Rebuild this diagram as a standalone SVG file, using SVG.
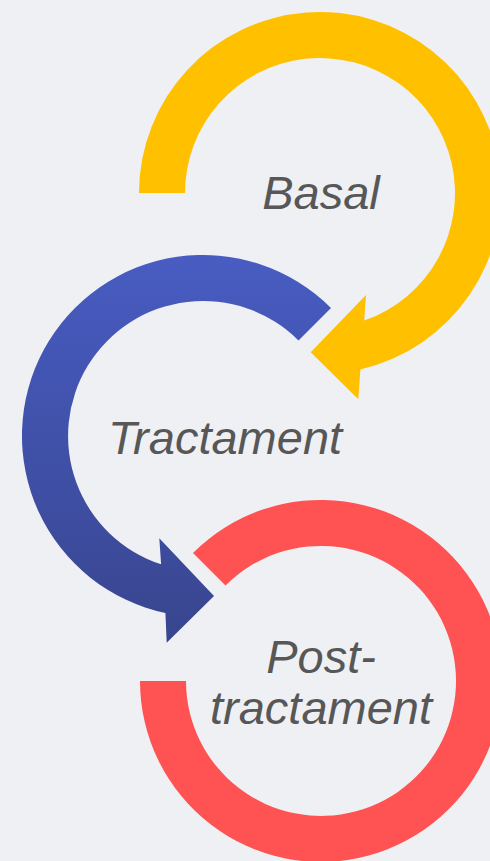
<svg xmlns="http://www.w3.org/2000/svg" width="490" height="861" viewBox="0 0 490 861">
  <defs>
    <linearGradient id="blueGrad" gradientUnits="userSpaceOnUse" x1="0" y1="255" x2="0" y2="645">
      <stop offset="0" stop-color="#485CC2"/>
      <stop offset="1" stop-color="#38458E"/>
    </linearGradient>
    <style>
      .label { font-family: "Liberation Sans", Arial, sans-serif; font-style: italic; font-size: 47px; fill: #575757; text-anchor: middle; }
      .yellow { fill: #FFC000; }
      .blue { fill: url(#blueGrad); }
      .red { fill: #FF5252; }
    </style>
  </defs>
  <rect x="0" y="0" width="490" height="861" fill="#EFF0F4"/>
  <g id="connectors">
    <path id="arrow-basal" class="yellow" d="M 139 193 A 181 181 0 1 1 360.4 369.4 L 358.3 399.3 L 310.7 352.3 L 366 295 L 364.2 320.6 A 135 135 0 1 0 185 193 Z"/>
    <path id="arrow-tractament" class="blue" d="M 331 308 A 181 181 0 1 0 165.4 613 L 166.7 642.7 L 214 596 L 159.3 538.3 L 161.1 564.3 A 135 135 0 1 1 298.5 340.5 Z"/>
    <path id="arrow-post" class="red" d="M 193 553 A 181 181 0 1 1 140 681 L 186 681 A 135 135 0 1 0 225.5 585.5 Z"/>
  </g>
  <g id="node-basal">
    <text class="label" x="321" y="209">Basal</text>
  </g>
  <g id="node-tractament">
    <text class="label" x="225" y="454">Tractament</text>
  </g>
  <g id="node-post">
    <text class="label" x="321" y="673">Post-</text>
    <text class="label" x="321" y="724">tractament</text>
  </g>
</svg>
